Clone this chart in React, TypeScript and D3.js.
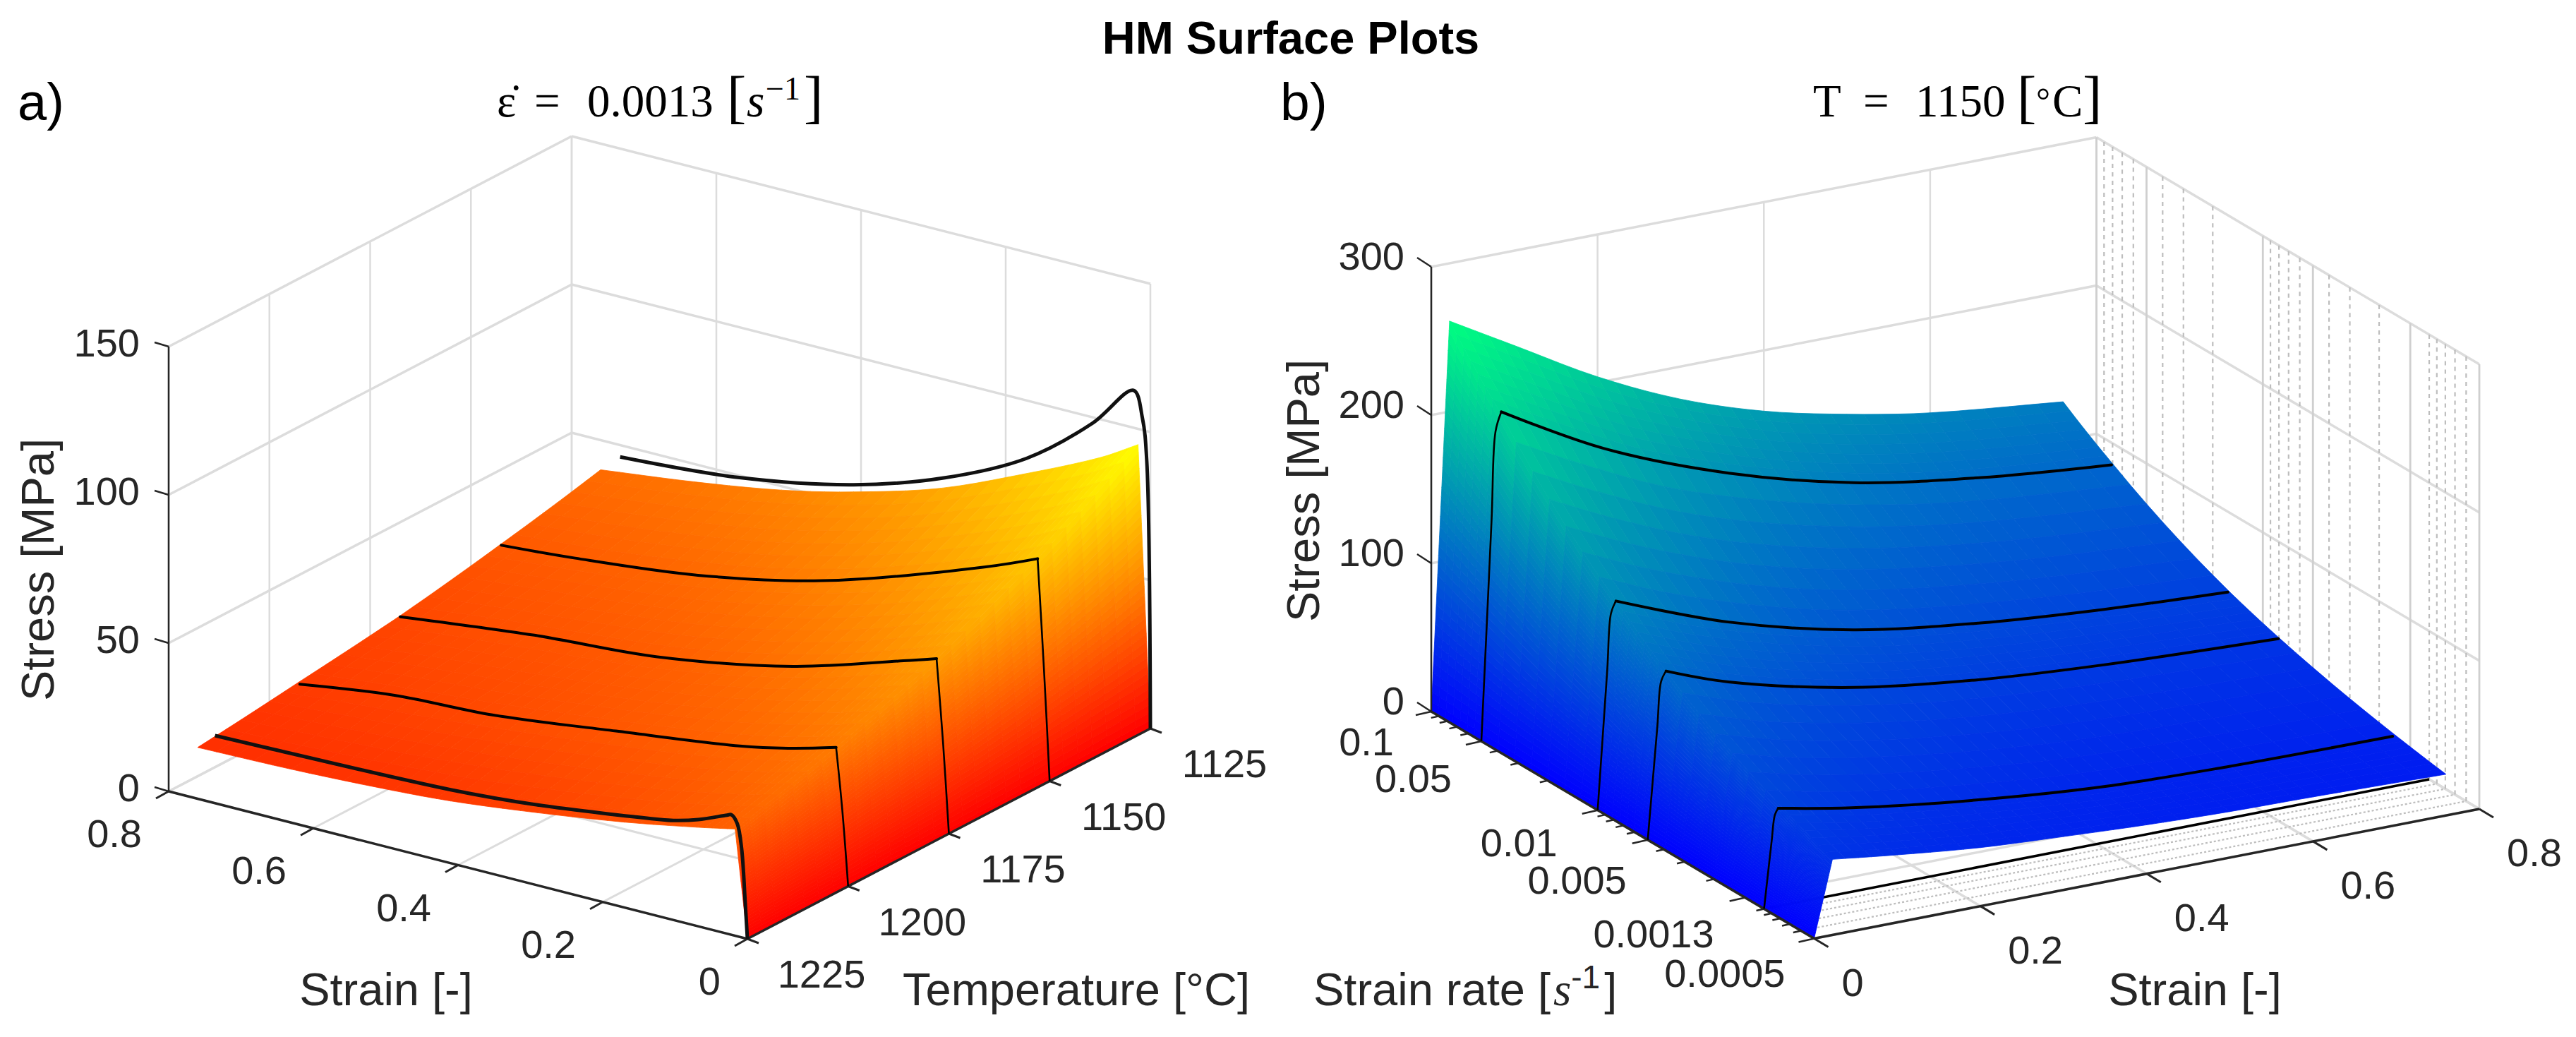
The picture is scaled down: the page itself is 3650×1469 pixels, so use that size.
import React from "react";
import * as d3 from "d3";

// ---------- Panel a data: stress vs strain and temperature (strain rate 0.0013)
const tempTicks = [1125, 1150, 1175, 1200, 1225];
const strainTicks = [0, 0.2, 0.4, 0.6, 0.8];
const stressTicksA = [0, 50, 100, 150];
const surfStrainA = [0, 0.017, 0.07, 0.17, 0.29, 0.41, 0.51, 0.63, 0.76];
const surfA1225 = [0, 36, 33.3, 28.8, 24.5, 21, 19.3, 18, 17.3];
const surfA1200 = [0, 45.8, 42, 37, 33, 29.7, 27, 24.5, 21.5];
const surfA1175 = [0, 58, 53.8, 46, 39, 34.3, 32, 29.5, 26];
const surfA1150 = [0, 74, 68, 58.5, 49.5, 42.5, 38.5, 35, 32.4];
const surfA1125 = [0, 94.7, 87, 75.5, 63, 54.3, 48.7, 44, 40];

const curveA1225S = [0, 0.003, 0.008, 0.014, 0.022, 0.028, 0.068, 0.102, 0.125, 0.295, 0.409, 0.67, 0.736];
const curveA1225Z = [0, 12, 30, 38, 40.5, 40, 36, 33.6, 32.6, 27, 24.8, 23.1, 22.8];
const curveA1200S = [0, 0.008, 0.0166, 0.083, 0.15, 0.321, 0.4917, 0.627, 0.758];
const curveA1200Z = [0, 25, 45.8, 41.4, 38, 32.4, 27.2, 25.4, 21];
const curveA1175S = [0, 0.008, 0.017, 0.063, 0.216, 0.403, 0.573, 0.7585];
const curveA1175Z = [0, 30, 58, 54.4, 43, 34.6, 31.3, 26];
const curveA1150S = [0, 0.008, 0.0166, 0.088, 0.315, 0.486, 0.656, 0.758];
const curveA1150Z = [0, 38, 74, 66.8, 48, 39.2, 34.4, 32.4];
const curveA1125S = [0, 0.005, 0.011, 0.0234, 0.08, 0.171, 0.284, 0.41, 0.568, 0.733];
const curveA1125Z = [0, 90, 104, 112.6, 98, 80.5, 66.9, 56.7, 49.3, 46];

// ---------- Panel b data: stress vs strain and strain rate (T = 1150)
const rateMajor = [0.0005, 0.0013, 0.005, 0.01, 0.05, 0.1];
const rateMinor = [0.0006, 0.0007, 0.0008, 0.0009, 0.001, 0.002, 0.003, 0.004, 0.006, 0.007, 0.008, 0.009, 0.02, 0.03, 0.04, 0.06, 0.07, 0.08, 0.09];
const stressTicksB = [0, 100, 200, 300];
const surfRates = [0.0005, 0.001, 0.005, 0.01, 0.05, 0.1];
const surfStrainB = [0, 0.022, 0.1, 0.2, 0.3, 0.4, 0.5, 0.6, 0.76];
const surfB0005 = [0, 51, 45.5, 39.5, 36, 33, 31, 30, 27.8];
const surfB001 = [0, 66, 57, 49, 43, 38.2, 36, 35, 33.8];
const surfB005 = [0, 111.5, 95.5, 81, 71, 64.5, 60, 57, 52.9];
const surfB01 = [0, 139, 121, 103, 89, 80, 74, 69.5, 64.3];
const surfB05 = [0, 220, 196, 168, 148, 132, 120, 112, 103.7];
const surfB1 = [0, 261, 236, 204, 178, 159, 146, 136, 126];

const curveB05S = [0, 0.0123, 0.017, 0.024, 0.147, 0.2975, 0.4477, 0.598, 0.758];
const curveB05Z = [0, 148, 207, 219.6, 181.5, 148.4, 125.5, 112.4, 103.7];
const curveB01S = [0, 0.0115, 0.016, 0.022, 0.157, 0.307, 0.4575, 0.6077, 0.758];
const curveB01Z = [0, 93, 131, 138.7, 109.8, 88.1, 76.2, 69, 64.3];
const curveB005S = [0, 0.0115, 0.016, 0.022, 0.097, 0.2475, 0.3977, 0.548, 0.7585];
const curveB005Z = [0, 75, 105, 111.5, 96, 75.8, 64.6, 58.2, 52.9];
const curveB001S = [0, 0.009, 0.013, 0.017, 0.1053, 0.2555, 0.4057, 0.556, 0.756];
const curveB001Z = [0, 44, 62, 66, 56.7, 45.5, 37.9, 35, 33.8];

// ---------- Scales and projections
type P = [number, number];
const sFrac = d3.scaleLinear().domain([0, 0.8]).range([0, 1]);
const tFrac = d3.scaleLinear().domain([1225, 1125]).range([0, 1]);
const rFrac = d3.scaleLog().domain([0.0005, 0.1]).range([0, 1]);
const zA = d3.scaleLinear().domain([0, 150]).range([0, 630]);
const zB = d3.scaleLinear().domain([0, 300]).range([0, 630]);

const projA = (s: number, v: number, z: number): P => [
  1059 - 820 * sFrac(s) + 571 * v,
  1330 - 209 * sFrac(s) - 298 * v - zA(z),
];
const projB = (s: number, v: number, z: number): P => [
  2570.5 + 942.5 * sFrac(s) - 542.5 * v,
  1329.5 - 183.5 * sFrac(s) - 321.5 * v - zB(z),
];

const autumn = (t: number) => `rgb(255,${Math.round(255 * Math.min(1, Math.max(0, t)))},0)`;
const winter = (t: number) => {
  const c = Math.min(1, Math.max(0, t));
  return `rgb(0,${Math.round(255 * c)},${Math.round(255 * (1 - c / 2))})`;
};

const poly = d3.line<P>().curve(d3.curveLinearClosed);
const straight = d3.line<P>();
const smooth = d3.line<P>().curve(d3.curveCatmullRom.alpha(0.5));

function buildFacets(
  columns: number[],
  rowFracs: number[],
  rows: number[][],
  proj: (s: number, v: number, z: number) => P,
  color: (t: number) => string,
  zMax: number,
  wallSub: number,
  colSub: number,
  rowSub: number,
) {
  const last = columns.length - 1;
  const zAt = (s: number, v: number) => {
    let j = d3.bisectRight(rowFracs, v) - 1;
    j = Math.max(0, Math.min(rowFracs.length - 2, j));
    const f = (v - rowFracs[j]) / (rowFracs[j + 1] - rowFracs[j]);
    let i = d3.bisectRight(columns, s) - 1;
    i = Math.max(0, Math.min(last - 1, i));
    const rowVal = (k: number) => {
      const a = rows[j][k];
      const b = rows[j + 1][k];
      return a <= 0 || b <= 0 ? 0 : Math.exp(Math.log(a) * (1 - f) + Math.log(b) * f);
    };
    const h = columns[i + 1] - columns[i];
    const g = (s - columns[i]) / h;
    if (i === 0) return rowVal(1) * g; // steep elastic wall
    const slope = (k: number) =>
      k <= 1
        ? (rowVal(2) - rowVal(1)) / (columns[2] - columns[1])
        : k >= last
        ? (rowVal(last) - rowVal(last - 1)) / (columns[last] - columns[last - 1])
        : (rowVal(k + 1) - rowVal(k - 1)) / (columns[k + 1] - columns[k - 1]);
    const g2 = g * g;
    const g3 = g2 * g;
    return (
      (2 * g3 - 3 * g2 + 1) * rowVal(i) +
      (g3 - 2 * g2 + g) * h * slope(i) +
      (-2 * g3 + 3 * g2) * rowVal(i + 1) +
      (g3 - g2) * h * slope(i + 1)
    );
  };
  const ss: number[] = [];
  columns.slice(0, -1).forEach((c, i) => {
    const n = i === 0 ? wallSub : colSub;
    for (let k = 0; k < n; k++) ss.push(c + ((columns[i + 1] - c) * k) / n);
  });
  ss.push(columns[last]);
  const vs: number[] = [];
  rowFracs.slice(0, -1).forEach((r, j) => {
    for (let k = 0; k < rowSub; k++) vs.push(r + ((rowFracs[j + 1] - r) * k) / rowSub);
  });
  vs.push(rowFracs[rowFracs.length - 1]);
  const out: { d: string; c: string }[] = [];
  for (let i = ss.length - 2; i >= 0; i--) {
    for (let j = vs.length - 2; j >= 0; j--) {
      const zs = [zAt(ss[i], vs[j]), zAt(ss[i + 1], vs[j]), zAt(ss[i + 1], vs[j + 1]), zAt(ss[i], vs[j + 1])];
      const pts: P[] = [
        proj(ss[i], vs[j], zs[0]),
        proj(ss[i + 1], vs[j], zs[1]),
        proj(ss[i + 1], vs[j + 1], zs[2]),
        proj(ss[i], vs[j + 1], zs[3]),
      ];
      out.push({ d: poly(pts) as string, c: color(d3.mean(zs)! / zMax) });
    }
  }
  return out;
}

const facetsA = buildFacets(
  surfStrainA,
  [1225, 1200, 1175, 1150, 1125].map((t) => tFrac(t)),
  [surfA1225, surfA1200, surfA1175, surfA1150, surfA1125],
  projA,
  autumn,
  94.7,
  36,
  5,
  7,
);
const facetsB = buildFacets(
  surfStrainB,
  surfRates.map((r) => rFrac(r)),
  [surfB0005, surfB001, surfB005, surfB01, surfB05, surfB1],
  projB,
  winter,
  261,
  40,
  5,
  7,
);

const curvePath = (proj: typeof projA, v: number, ss: number[], zs: number[]) =>
  smooth(ss.map((s, i) => proj(s, v, zs[i]))) as string;

// A curve with a sharp yield corner: thin rise, then the heavier smooth flow curve
const Sharp = ({ proj, v, ss, zs, w = 4 }: { proj: typeof projA; v: number; ss: number[]; zs: number[]; w?: number }) => {
  const peak = d3.maxIndex(zs);
  return (
    <g>
      <path d={smooth(ss.slice(0, peak + 1).map((s, i) => proj(s, v, zs[i]))) as string} fill="none" stroke="#000" strokeWidth={2.6} />
      <path d={smooth(ss.slice(peak).map((s, i) => proj(s, v, zs[i + peak]))) as string} fill="none" stroke="#000" strokeWidth={w} strokeLinecap="round" />
    </g>
  );
};

const seg = (a: P, b: P) => straight([a, b]) as string;

const GRID = "#dcdcdc";
const INK = "#262626";
const SANS = "'Liberation Sans', Arial, sans-serif";
const SERIF = "'Liberation Serif', 'Times New Roman', serif";

const Line = ({ d, c = GRID, w = 3, dash }: { d: string; c?: string; w?: number; dash?: string }) => (
  <path d={d} fill="none" stroke={c} strokeWidth={w} strokeDasharray={dash} />
);

const T = ({ x, y, a = "middle", s = 56, children, c = INK, rot }: any) => (
  <text
    x={x}
    y={y}
    textAnchor={a}
    fontFamily={SANS}
    fontSize={s}
    fill={c}
    transform={rot ? `rotate(${rot} ${x} ${y})` : undefined}
  >
    {children}
  </text>
);

function PanelA() {
  const vT = tempTicks.map((t) => tFrac(t));
  return (
    <g>
      {/* grid */}
      {stressTicksA.map((z) => (
        <g key={z}>
          <Line d={seg(projA(0.8, 0, z), projA(0.8, 1, z))} w={3.5} />
          <Line d={seg(projA(0.8, 1, z), projA(0, 1, z))} w={3.5} />
        </g>
      ))}
      {vT.map((v, i) => (
        <g key={i}>
          <Line d={seg(projA(0.8, v, 0), projA(0.8, v, 150))} w={2.5} />
          <Line d={seg(projA(0, v, 0), projA(0.8, v, 0))} w={3} />
        </g>
      ))}
      {strainTicks.map((s) => (
        <g key={s}>
          <Line d={seg(projA(s, 1, 0), projA(s, 1, 150))} w={2.5} />
          <Line d={seg(projA(s, 0, 0), projA(s, 1, 0))} w={3} />
        </g>
      ))}
      {/* surface */}
      {facetsA.map((f, i) => (
        <path key={i} d={f.d} fill={f.c} stroke={f.c} strokeWidth={0.8} />
      ))}
      {/* axes */}
      <Line d={seg(projA(0.8, 0, 0), projA(0.8, 0, 150))} c={INK} w={2.5} />
      <Line d={seg(projA(0, 0, 0), projA(0.8, 0, 0))} c={INK} w={3.5} />
      <Line d={seg(projA(0, 0, 0), projA(0, 1, 0))} c={INK} w={3.5} />
      {stressTicksA.map((z) => {
        const p = projA(0.8, 0, z);
        return (
          <g key={z}>
            <Line d={seg(p, [p[0] - 20, p[1] - 6])} c={INK} w={2.5} />
            <T x={198} y={p[1] + 14} a="end">{z}</T>
          </g>
        );
      })}
      {strainTicks.map((s) => {
        const p = projA(s, 0, 0);
        return (
          <g key={s}>
            <Line d={seg(p, [p[0] - 18, p[1] + 10])} c={INK} w={3} />
            <T x={p[0] - 38} y={p[1] + 79} a="end">{s}</T>
          </g>
        );
      })}
      {tempTicks.map((t) => {
        const p = projA(0, tFrac(t), 0);
        return (
          <g key={t}>
            <Line d={seg(p, [p[0] + 16, p[1] + 6])} c={INK} w={3} />
            <T x={p[0] + 105} y={p[1] + 69}>{t}</T>
          </g>
        );
      })}
      {/* curves */}
      <Line d={curvePath(projA, tFrac(1225), curveA1225S, curveA1225Z)} c="#111" w={5} />
      <Sharp proj={projA} v={tFrac(1200)} ss={curveA1200S} zs={curveA1200Z} />
      <Sharp proj={projA} v={tFrac(1175)} ss={curveA1175S} zs={curveA1175Z} />
      <Sharp proj={projA} v={tFrac(1150)} ss={curveA1150S} zs={curveA1150Z} />
      <Line d={curvePath(projA, tFrac(1125), curveA1125S, curveA1125Z)} c="#111" w={5} />
      {/* labels */}
      <T x={547} y={1424} s={65}>Strain [-]</T>
      <T x={1525} y={1424} s={65}>Temperature [°C]</T>
      <T x={76} y={807} s={65} rot={-90}>Stress [MPa]</T>
      <T x={25} y={170} a="start" s={74} c="#000">a)</T>
      <text y={165} fontFamily={SERIF} fontSize={65} fill="#000">
        <tspan x={704}>ε̇</tspan>
        <tspan x={757}>=</tspan>
        <tspan x={832}>0.0013</tspan>
        <tspan x={1030} fontSize={82}>[</tspan>
        <tspan x={1058} fontStyle="italic">s</tspan>
        <tspan x={1085} dy={-24} fontSize={46}>−1</tspan>
        <tspan x={1139} dy={24} fontSize={82}>]</tspan>
      </text>
    </g>
  );
}

function PanelB() {
  const vMaj = rateMajor.map((r) => rFrac(r));
  const vMin = rateMinor.map((r) => rFrac(r));
  const rateNudge: Record<string, P> = {
    "0.1": [-53, 62],
    "0.05": [-42, 72],
    "0.01": [-57, 65],
    "0.005": [-30, 76],
    "0.0013": [-44, 70],
    "0.0005": [-41, 68],
  };
  return (
    <g>
      {/* grid */}
      {stressTicksB.map((z) => (
        <g key={z}>
          <Line d={seg(projB(0, 1, z), projB(0.8, 1, z))} w={3.5} />
          <Line d={seg(projB(0.8, 1, z), projB(0.8, 0, z))} w={3.5} />
        </g>
      ))}
      {strainTicks.map((s) => (
        <g key={s}>
          <Line d={seg(projB(s, 1, 0), projB(s, 1, 300))} w={2.5} />
          <Line d={seg(projB(s, 0, 0), projB(s, 1, 0))} w={3.5} />
        </g>
      ))}
      {vMaj.map((v, i) => (
        <g key={i}>
          <Line d={seg(projB(0.8, v, 0), projB(0.8, v, 300))} c="#cfcfcf" w={2.8} />
          <Line d={seg(projB(0, v, 0), projB(0.8, v, 0))} w={3.5} />
        </g>
      ))}
      {vMin.map((v, i) => (
        <g key={i}>
          <Line d={seg(projB(0.8, v, 0), projB(0.8, v, 300))} c="#bdbdbd" w={2.2} dash="6 6" />
          <Line d={seg(projB(0, v, 0), projB(0.8, v, 0))} c="#bdbdbd" w={2.2} dash="3 3" />
        </g>
      ))}
      <Line d={seg(projB(0, rFrac(0.001), 0), projB(0.8, rFrac(0.001), 0))} c="#000" w={3.5} />
      {/* surface */}
      {facetsB.map((f, i) => (
        <path key={i} d={f.d} fill={f.c} stroke={f.c} strokeWidth={0.8} />
      ))}
      {/* axes */}
      <Line d={seg(projB(0, 1, 0), projB(0, 1, 300))} c={INK} w={2.5} />
      <Line d={seg(projB(0, 0, 0), projB(0, 1, 0))} c={INK} w={3.5} />
      <Line d={seg(projB(0, 0, 0), projB(0.8, 0, 0))} c={INK} w={3.5} />
      {stressTicksB.map((z) => {
        const p = projB(0, 1, z);
        return (
          <g key={z}>
            <Line d={seg(p, [p[0] - 20, p[1] - 13])} c={INK} w={2.5} />
            <T x={1990} y={p[1] + 4} a="end">{z}</T>
          </g>
        );
      })}
      {vMin.map((v, i) => {
        const p = projB(0, v, 0);
        return <Line key={i} d={seg(p, [p[0] - 11, p[1] + 2.5])} c={INK} w={2.5} />;
      })}
      {rateMajor.map((r) => {
        const p = projB(0, rFrac(r), 0);
        const n = rateNudge[String(r)];
        return (
          <g key={r}>
            <Line d={seg(p, [p[0] - 22, p[1] + 5])} c={INK} w={2.5} />
            <T x={p[0] + n[0]} y={p[1] + n[1]} a="end">{r}</T>
          </g>
        );
      })}
      {strainTicks.map((s) => {
        const p = projB(s, 0, 0);
        return (
          <g key={s}>
            <Line d={seg(p, [p[0] + 20, p[1] + 12])} c={INK} w={3} />
            <T x={p[0] + 39} y={p[1] + 81} a="start">{s}</T>
          </g>
        );
      })}
      {/* curves */}
      <Sharp proj={projB} v={rFrac(0.05)} ss={curveB05S} zs={curveB05Z} />
      <Sharp proj={projB} v={rFrac(0.01)} ss={curveB01S} zs={curveB01Z} />
      <Sharp proj={projB} v={rFrac(0.005)} ss={curveB005S} zs={curveB005Z} />
      <Sharp proj={projB} v={rFrac(0.001)} ss={curveB001S} zs={curveB001Z} />
      {/* labels */}
      <T x={3110} y={1424} s={65}>Strain [-]</T>
      <text x={1861} y={1424} fontFamily={SANS} fontSize={65} fill={INK}>
        Strain rate [
        <tspan dx={4} fontFamily={SERIF} fontStyle="italic">s</tspan>
        <tspan dy={-24} fontSize={46}>-1</tspan>
        <tspan dx={6} dy={24}>]</tspan>
      </text>
      <T x={1869} y={695} s={65} rot={-90}>Stress [MPa]</T>
      <T x={1814} y={170} a="start" s={75} c="#000">b)</T>
      <text y={165} fontFamily={SERIF} fontSize={65} fill="#000">
        <tspan x={2569}>T</tspan>
        <tspan x={2640}>=</tspan>
        <tspan x={2714}>1150</tspan>
        <tspan x={2858} fontSize={82}>[</tspan>
        <tspan x={2885} dy={-6} fontSize={50}>°</tspan>
        <tspan x={2908} dy={6}>C</tspan>
        <tspan x={2951} fontSize={82}>]</tspan>
      </text>
    </g>
  );
}

export default function App() {
  return (
    <svg
      width={3650}
      height={1469}
      viewBox="0 0 3650 1469"
      style={{ position: "absolute", left: 0, top: 0, display: "block", background: "#fff" }}
    >
      <rect width={3650} height={1469} fill="#fff" />
      <text x={1829} y={76} textAnchor="middle" fontFamily={SANS} fontWeight="bold" fontSize={65} fill="#000">
        HM Surface Plots
      </text>
      <PanelA />
      <PanelB />
    </svg>
  );
}
